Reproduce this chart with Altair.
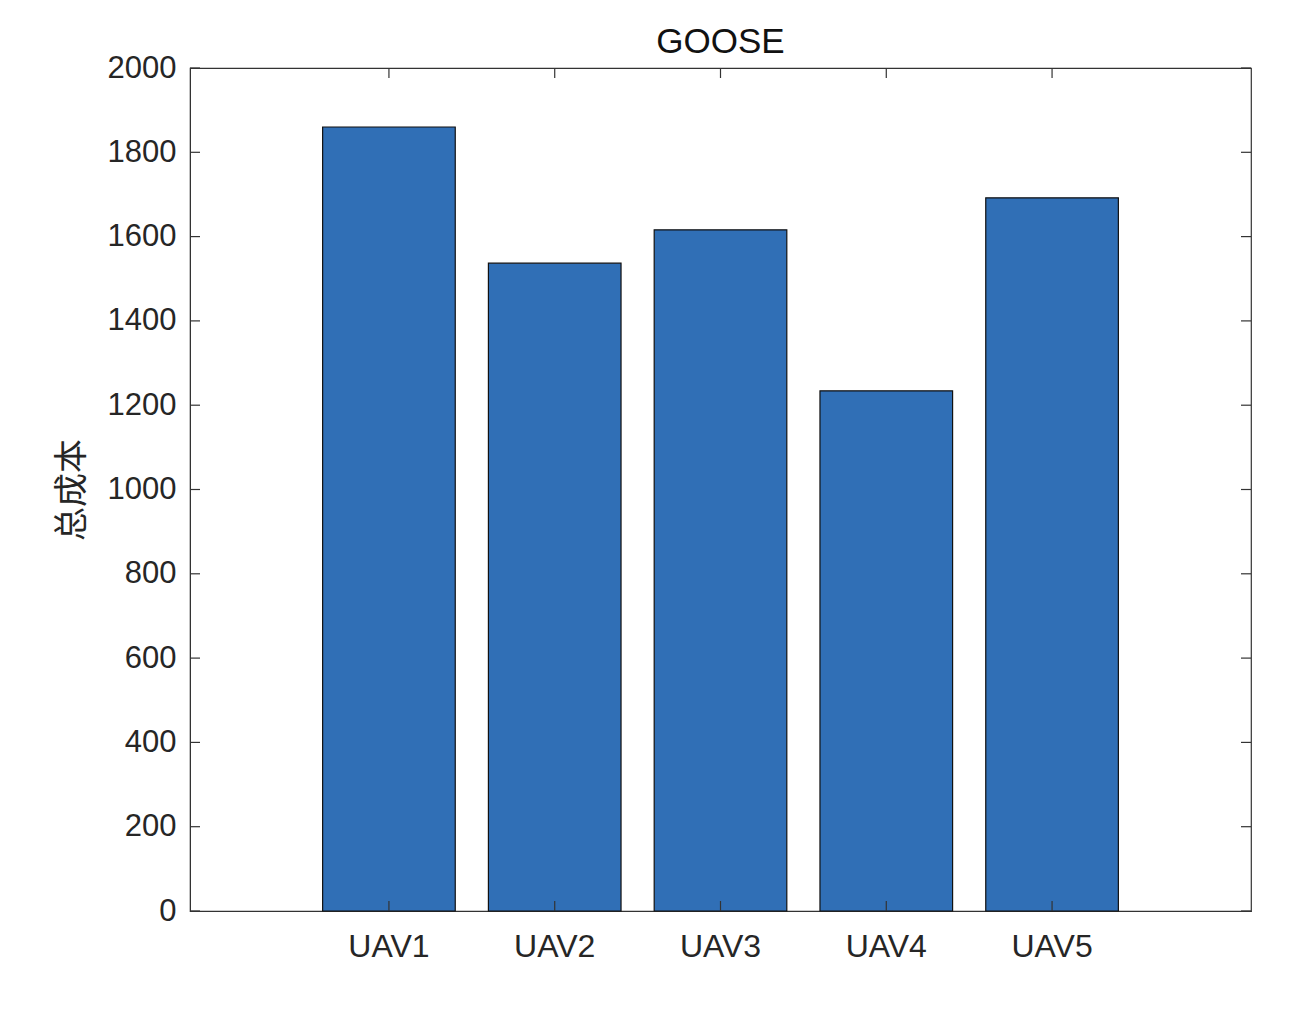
import altair as alt
import pandas as pd

categories = ["UAV1", "UAV2", "UAV3", "UAV4", "UAV5"]
costs = [1860, 1537, 1616, 1234, 1692]
y_ticks = [0, 200, 400, 600, 800, 1000, 1200, 1400, 1600, 1800, 2000]

W, H = 1061, 843
TXT = "#262626"
AX = "#333333"
FONT = "Liberation Sans"

bars_df = pd.DataFrame({"uav": categories, "cost": costs})
yt_df = pd.DataFrame({"v": y_ticks})

xscale = alt.Scale(paddingInner=0.2, paddingOuter=0.8)
yscale = alt.Scale(domain=[0, 2000], nice=False)

xenc = alt.X("uav:N", scale=xscale, sort=categories,
             axis=alt.Axis(title=None, labelAngle=0, ticks=False, domain=True,
                           domainColor=AX, labelFontSize=32, labelFont=FONT,
                           labelColor=TXT, labelPadding=20))
yenc = alt.Y("cost:Q", scale=yscale,
             axis=alt.Axis(title="总成本", values=y_ticks, format="d", ticks=False,
                           grid=False, domain=True, domainColor=AX, labelFontSize=31,
                           labelFont=FONT, labelColor=TXT, labelPadding=14,
                           titleFont="Noto Sans CJK SC", titleFontSize=34,
                           titleFontWeight="normal", titleColor=TXT,
                           titlePadding=18))

bars = alt.Chart(bars_df).mark_bar(color="#306FB6", stroke="#111111",
                                   strokeWidth=1.2).encode(x=xenc, y=yenc)

yl = alt.Chart(yt_df).mark_rule(color=AX, strokeWidth=1.2).encode(
    y=alt.Y("v:Q", scale=yscale), x=alt.value(0), x2=alt.value(10))
yr = alt.Chart(yt_df).mark_rule(color=AX, strokeWidth=1.2).encode(
    y=alt.Y("v:Q", scale=yscale), x=alt.value(W - 10), x2=alt.value(W))
xb = alt.Chart(bars_df).mark_rule(color=AX, strokeWidth=1.2).encode(
    x=alt.X("uav:N", scale=xscale, sort=categories), y=alt.value(H - 10), y2=alt.value(H))
xt = alt.Chart(bars_df).mark_rule(color=AX, strokeWidth=1.2).encode(
    x=alt.X("uav:N", scale=xscale, sort=categories), y=alt.value(0), y2=alt.value(10))

chart = alt.layer(bars, yl, yr, xb, xt).properties(
    width=W, height=H,
    background="white",
    title=alt.TitleParams("GOOSE", font=FONT, fontSize=35, fontWeight="normal",
                          color="#111111", anchor="middle", offset=-8),
    autosize=alt.AutoSizeParams(type="none"),
    padding={"left": 182, "top": 60, "right": 40, "bottom": 80},
).configure_view(stroke=AX, strokeWidth=1.2)

chart.save("out.html", embed_options={"renderer": "svg", "actions": False})
